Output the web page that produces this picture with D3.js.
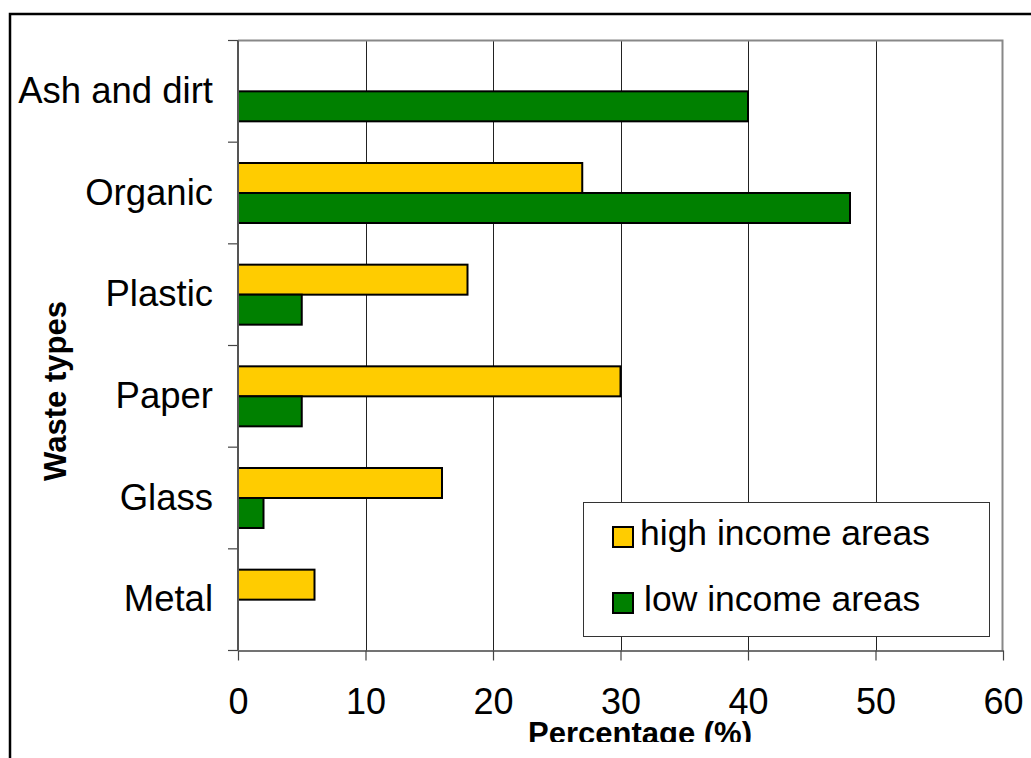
<!DOCTYPE html>
<html>
<head>
<meta charset="utf-8">
<script src="https://cdn.jsdelivr.net/npm/d3@7"></script>
<style>
  body { margin: 0; background: #fff; }
  svg { display: block; font-family: "Liberation Sans", Arial, sans-serif; }
</style>
</head>
<body>
<script>
// waste composition, top to bottom
var categories = ["Ash and dirt", "Organic", "Plastic", "Paper", "Glass", "Metal"];
var highIncome = [0, 27, 18, 30, 16, 6];
var lowIncome = [40, 48, 5, 5, 2, 0];
var seriesNames = ["high income areas", "low income areas"];
var seriesColors = ["#ffcc00", "#008000"];
var xTicks = [0, 10, 20, 30, 40, 50, 60];

var width = 1031, height = 758;
var plot = {left: 238, right: 1003, top: 40.5, bottom: 650.5};

var svg = d3.select("body").append("svg")
    .attr("width", width)
    .attr("height", height);

// outer frame (only top and left visible)
svg.append("path")
    .attr("d", "M10," + height + "V14H" + width)
    .attr("fill", "none")
    .attr("stroke", "#000")
    .attr("stroke-width", 2.5);

var x = d3.scaleLinear()
    .domain([0, 60])
    .range([plot.left, plot.right]);

var y = d3.scaleBand()
    .domain(categories)
    .range([plot.top, plot.bottom]);

var bw = 30;
var sub = d3.scaleBand()
    .domain(seriesNames)
    .range([0, y.bandwidth()])
    .paddingInner(0)
    .paddingOuter((y.bandwidth() / bw - 2) / 2);

// grid
svg.append("g")
  .selectAll("line")
    .data(xTicks.slice(1, -1))
  .enter().append("line")
    .attr("x1", function(d) { return Math.round(x(d)) + 0.5; })
    .attr("x2", function(d) { return Math.round(x(d)) + 0.5; })
    .attr("y1", plot.top)
    .attr("y2", plot.bottom)
    .attr("stroke", "#222")
    .attr("stroke-width", 1);

// plot frame top and right
svg.append("path")
    .attr("d", "M" + plot.left + "," + plot.top + "H" + (plot.right - 0.5) + "V" + plot.bottom)
    .attr("fill", "none")
    .attr("stroke", "#888")
    .attr("stroke-width", 2);

// bars
var rows = categories.map(function(c, i) {
  return [
    {cat: c, series: seriesNames[0], value: highIncome[i], color: seriesColors[0]},
    {cat: c, series: seriesNames[1], value: lowIncome[i], color: seriesColors[1]}
  ];
});

svg.append("g")
  .selectAll("g")
    .data(rows)
  .enter().append("g")
    .attr("transform", function(d) { return "translate(0," + y(d[0].cat) + ")"; })
  .selectAll("rect")
    .data(function(d) { return d.filter(function(b) { return b.value > 0; }); })
  .enter().append("rect")
    .attr("x", x(0))
    .attr("y", function(d) { return sub(d.series); })
    .attr("width", function(d) { return x(d.value) - x(0); })
    .attr("height", sub.bandwidth())
    .attr("fill", function(d) { return d.color; })
    .attr("stroke", "#000")
    .attr("stroke-width", 2);

// x axis
var xAxis = svg.append("g")
    .attr("transform", "translate(0," + plot.bottom + ")")
    .call(d3.axisBottom(x).tickValues(xTicks).tickSize(10).tickPadding(28).tickSizeOuter(0));
xAxis.select(".domain").attr("stroke", "#444").attr("stroke-width", 1.5);
xAxis.selectAll(".tick line").attr("stroke", "#444").attr("stroke-width", 1.2);
xAxis.selectAll("text")
    .attr("font-size", 36)
    .attr("font-family", "Liberation Sans, Arial, sans-serif")
    .attr("fill", "#000");

// y axis: labels at band centres, ticks at band edges
var yAxis = svg.append("g")
    .attr("transform", "translate(" + plot.left + ",0)")
    .call(d3.axisLeft(y).tickSize(0).tickPadding(25));
yAxis.select(".domain").remove();
yAxis.selectAll("text")
    .attr("font-size", 36.5)
    .attr("font-family", "Liberation Sans, Arial, sans-serif")
    .attr("fill", "#000");

var edges = categories.map(function(c) { return y(c); }).concat([plot.bottom]);
svg.append("g")
  .selectAll("line")
    .data(edges)
  .enter().append("line")
    .attr("x1", plot.left - 10)
    .attr("x2", plot.left)
    .attr("y1", function(d) { return d; })
    .attr("y2", function(d) { return d; })
    .attr("stroke", "#444")
    .attr("stroke-width", 1.2);

svg.append("line")
    .attr("x1", plot.left)
    .attr("x2", plot.left)
    .attr("y1", plot.top)
    .attr("y2", plot.bottom)
    .attr("stroke", "#555")
    .attr("stroke-width", 2);

// axis titles
svg.append("clipPath")
    .attr("id", "titleclip")
  .append("rect")
    .attr("x", 0)
    .attr("y", 0)
    .attr("width", width)
    .attr("height", 742);

svg.append("text")
    .attr("clip-path", "url(#titleclip)")
    .attr("x", 640)
    .attr("y", 744)
    .attr("text-anchor", "middle")
    .attr("font-size", 31)
    .attr("font-weight", "bold")
    .text("Percentage (%)");

svg.append("text")
    .attr("transform", "translate(66,391) rotate(-90)")
    .attr("text-anchor", "middle")
    .attr("font-size", 31)
    .attr("font-weight", "bold")
    .text("Waste types");

// legend
var legend = svg.append("g");
legend.append("rect")
    .attr("x", 583.5)
    .attr("y", 502.5)
    .attr("width", 406)
    .attr("height", 134)
    .attr("fill", "#fff")
    .attr("stroke", "#333")
    .attr("stroke-width", 1);

var item = legend.selectAll("g.item")
    .data(seriesNames)
  .enter().append("g")
    .attr("class", "item")
    .attr("transform", function(d, i) { return "translate(613," + (527 + i * 66) + ")"; });

item.append("rect")
    .attr("width", 20)
    .attr("height", 20)
    .attr("fill", function(d, i) { return seriesColors[i]; })
    .attr("stroke", "#000")
    .attr("stroke-width", 2);

item.append("text")
    .attr("x", function(d, i) { return i ? 31 : 27; })
    .attr("y", 18)
    .attr("font-size", 35.5)
    .text(function(d) { return d; });
</script>
</body>
</html>
